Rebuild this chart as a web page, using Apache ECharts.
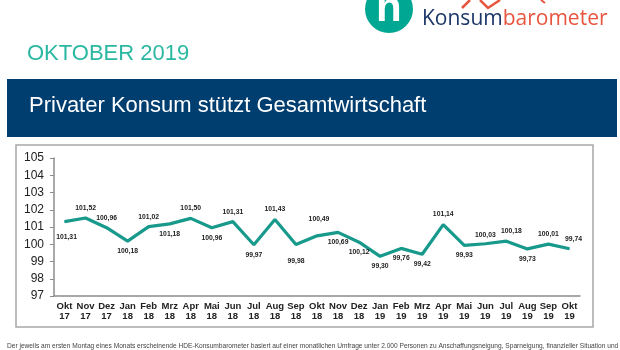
<!DOCTYPE html>
<html>
<head>
<meta charset="utf-8">
<script src="https://cdn.jsdelivr.net/npm/echarts@6/dist/echarts.min.js"></script>
<style>
  html, body { margin: 0; padding: 0; background: #fff; }
  #main { width: 620px; height: 350px; }
</style>
</head>
<body>
<div id="main"></div>
<script>
var months = ['Okt\n17', 'Nov\n17', 'Dez\n17', 'Jan\n18', 'Feb\n18', 'Mrz\n18', 'Apr\n18', 'Mai\n18',
  'Jun\n18', 'Jul\n18', 'Aug\n18', 'Sep\n18', 'Okt\n18', 'Nov\n18', 'Dez\n18', 'Jan\n19', 'Feb\n19',
  'Mrz\n19', 'Apr\n19', 'Mai\n19', 'Jun\n19', 'Jul\n19', 'Aug\n19', 'Sep\n19', 'Okt\n19'];

var konsum = [101.31, 101.52, 100.96, 100.18, 101.02, 101.18, 101.50, 100.96, 101.31, 99.97, 101.43, 99.98,
  100.49, 100.69, 100.12, 99.30, 99.76, 99.42, 101.14, 99.93, 100.03, 100.18, 99.73, 100.01, 99.74];

// points whose value label sits under the line
var labelBelow = [0, 3, 5, 7, 9, 11, 13, 14, 15, 16, 17, 19, 22];

// a few labels are pushed a bit further away in the original
var labelNudge = { 0: [2, 5], 11: [0, 7], 12: [2, -7], 21: [5, 0], 24: [4, 0], 20: [0, 1] };

var chart = echarts.init(document.getElementById('main'));

var teal = '#17998b';
var font = 'Liberation Sans, Arial, sans-serif';

var seriesData = konsum.map(function (v, i) {
  var below = labelBelow.indexOf(i) >= 0;
  var lbl = below ? { position: 'bottom', distance: 6 } : { position: 'top', distance: 6 };
  if (labelNudge[i]) lbl.offset = labelNudge[i];
  return { value: v, label: lbl };
});

var option = {
  backgroundColor: '#fff',
  animation: false,
  textStyle: { fontFamily: font },
  grid: { left: 54, right: 40, top: 158, bottom: 54 },
  xAxis: {
    type: 'category',
    data: months,
    axisLine: { lineStyle: { color: '#8c8c8c', width: 1.5 } },
    axisTick: { show: false },
    axisLabel: {
      color: '#222',
      fontSize: 9.5,
      fontWeight: 'bold',
      lineHeight: 10,
      margin: 5,
      interval: 0
    }
  },
  yAxis: {
    type: 'value',
    min: 97,
    max: 105,
    interval: 1,
    axisLine: { show: true, lineStyle: { color: '#8c8c8c', width: 1.5 } },
    axisTick: { show: true, inside: false, length: 4, lineStyle: { color: '#8c8c8c' } },
    splitLine: { show: false },
    axisLabel: { color: '#222', fontSize: 12, margin: 10 }
  },
  series: [{
    type: 'line',
    data: seriesData,
    symbol: 'circle',
    symbolSize: 1,
    itemStyle: { color: teal },
    lineStyle: { color: teal, width: 3.2 },
    label: {
      show: true,
      color: '#222',
      fontSize: 6.8,
      fontWeight: 'bold',
      formatter: function (p) {
        return p.value.toFixed(2).replace('.', ',');
      }
    }
  }],
  graphic: [
    // logo
    { type: 'circle', shape: { cx: 389, cy: 9, r: 24 }, style: { fill: '#00a893' } },
    {
      type: 'text', left: 376, top: -12,
      style: { text: 'h', fill: '#fff', font: 'bold 42px ' + font }
    },
    {
      type: 'text', left: 429, top: -17,
      style: { text: 'HDE', fill: '#1b3668', font: 'bold 19px ' + font }
    },
    {
      type: 'polyline', shape: { points: [[462, 8], [470, 0]] },
      style: { stroke: '#e8553f', lineWidth: 2.5, fill: null }
    },
    {
      type: 'polyline', shape: { points: [[480, 0], [488, 8], [500, 0]] },
      style: { stroke: '#e8553f', lineWidth: 2.5, fill: null }
    },
    {
      type: 'polyline', shape: { points: [[541, 0], [545, 3]] },
      style: { stroke: '#e8553f', lineWidth: 2, fill: null }
    },
    {
      type: 'text', left: 422, top: 9,
      style: {
        text: '{a|Konsum}{b|barometer}',
        rich: {
          a: { fill: '#1b3668', font: '21px Open Sans, Liberation Sans, sans-serif' },
          b: { fill: '#e8553f', font: '21px Open Sans, Liberation Sans, sans-serif' }
        }
      }
    },
    // month heading
    {
      type: 'text', left: 27, top: 43,
      style: { text: 'OKTOBER 2019', fill: '#2bb8a2', font: '22px ' + font }
    },
    // title banner
    { type: 'rect', shape: { x: 7, y: 79, width: 610, height: 58 }, style: { fill: '#003e70' } },
    {
      type: 'text', left: 29, top: 95,
      style: { text: 'Privater Konsum stützt Gesamtwirtschaft', fill: '#fff', font: '22px ' + font }
    },
    // chart frame
    {
      type: 'rect', z: -1, shape: { x: 16, y: 145, width: 577, height: 182 },
      style: { fill: '#fff', stroke: '#a8a8a8', lineWidth: 1.5 }
    },
    // footnote
    {
      type: 'text', left: 7, top: 343,
      style: {
        text: 'Der jeweils am ersten Montag eines Monats erscheinende HDE-Konsumbarometer basiert auf einer monatlichen Umfrage unter 2.000 Personen zu Anschaffungsneigung, Sparneigung, finanzieller Situation und zu',
        fill: '#444', font: '6.6px ' + font
      }
    }
  ]
};

chart.setOption(option);
</script>
</body>
</html>
